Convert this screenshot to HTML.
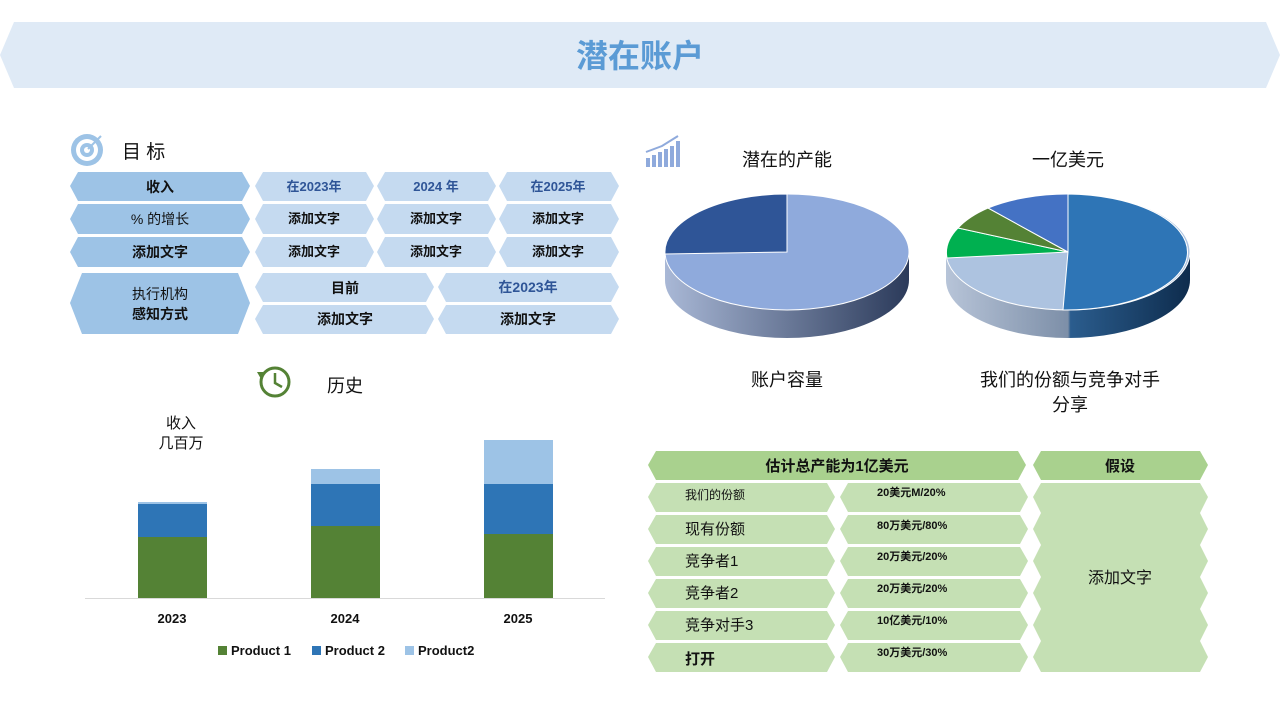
<!DOCTYPE html>
<html><head><meta charset="utf-8"><style>
html,body{margin:0;padding:0;background:#fff}
svg{display:block}
text{font-family:"Liberation Sans","Noto Sans CJK SC",sans-serif}
</style></head><body>
<svg width="1280" height="720" viewBox="0 0 1280 720" xmlns="http://www.w3.org/2000/svg">
<defs>
<linearGradient id="sideL" x1="0" x2="1"><stop offset="0" stop-color="#a9b8d6"/><stop offset="1" stop-color="#2b3a5a"/></linearGradient>
<linearGradient id="sideR" x1="0" x2="1"><stop offset="0" stop-color="#b7c4d8"/><stop offset="0.5" stop-color="#7d8fa8"/><stop offset="0.51" stop-color="#2b5d8e"/><stop offset="1" stop-color="#0e2c4d"/></linearGradient>
</defs>
<!-- banner -->
<polygon points="0,55 14,22 1266,22 1280,55 1266,88 14,88" fill="#dfeaf6"/>
<text x="640" y="67" text-anchor="middle" font-size="32" font-weight="bold" fill="#5b9bd5">潜在账户</text>

<!-- target icon -->
<circle cx="87" cy="150" r="16" fill="#9dc3e6"/><circle cx="87" cy="150" r="11" fill="#fff"/><circle cx="87" cy="150" r="7" fill="#9dc3e6"/><circle cx="87" cy="150" r="3" fill="#fff"/>
<line x1="88" y1="149" x2="101" y2="136" stroke="#9dc3e6" stroke-width="2"/>
<text x="122" y="158" font-size="19" fill="#111">目 标</text>

<g font-size="14" font-weight="bold" text-anchor="middle">
<!-- rows -->
<g fill="#9dc3e6">
<polygon points="70,186 78,172 242,172 250,186 242,201 78,201"/>
<polygon points="70,219 78,204 242,204 250,219 242,234 78,234"/>
<polygon points="70,252 78,237 242,237 250,252 242,267 78,267"/>
<polygon points="70,303 82,273 238,273 250,303 238,334 82,334"/>
</g>
<g fill="#c5daf0">
<polygon points="255,186 263,172 366,172 374,186 366,201 263,201"/>
<polygon points="377,186 385,172 488,172 496,186 488,201 385,201"/>
<polygon points="499,186 507,172 611,172 619,186 611,201 507,201"/>
<polygon points="255,219 263,204 366,204 374,219 366,234 263,234"/>
<polygon points="377,219 385,204 488,204 496,219 488,234 385,234"/>
<polygon points="499,219 507,204 611,204 619,219 611,234 507,234"/>
<polygon points="255,252 263,237 366,237 374,252 366,267 263,267"/>
<polygon points="377,252 385,237 488,237 496,252 488,267 385,267"/>
<polygon points="499,252 507,237 611,237 619,252 611,267 507,267"/>
<polygon points="255,287 263,273 426,273 434,287 426,302 263,302"/>
<polygon points="438,287 446,273 611,273 619,287 611,302 446,302"/>
<polygon points="255,319 263,305 426,305 434,319 426,334 263,334"/>
<polygon points="438,319 446,305 611,305 619,319 611,334 446,334"/>
</g>
<text x="160" y="192" fill="#111">收入</text>
<text x="160" y="224" fill="#111" font-weight="normal">% 的增长</text>
<text x="160" y="257" fill="#111">添加文字</text>
<text x="160" y="299" fill="#111" font-weight="normal">执行机构</text>
<text x="160" y="319" fill="#111">感知方式</text>
<g font-size="13" fill="#2f5597"><text x="314" y="191">在2023年</text><text x="436" y="191">2024 年</text><text x="558" y="191">在2025年</text></g>
<g font-size="13" fill="#111">
<text x="314" y="223">添加文字</text><text x="436" y="223">添加文字</text><text x="558" y="223">添加文字</text>
<text x="314" y="256">添加文字</text><text x="436" y="256">添加文字</text><text x="558" y="256">添加文字</text>
<text x="345" y="324" font-size="14">添加文字</text><text x="528" y="324" font-size="14">添加文字</text>
</g>
<text x="345" y="293" fill="#111">目前</text>
<text x="528" y="292" fill="#2f5597">在2023年</text>
</g>

<!-- bar icon -->
<g fill="#8faadc"><rect x="646" y="158" width="4" height="9"/><rect x="652" y="155" width="4" height="12"/><rect x="658" y="152" width="4" height="15"/><rect x="664" y="149" width="4" height="18"/><rect x="670" y="146" width="4" height="21"/><rect x="676" y="141" width="4" height="26"/></g>
<polyline points="646,152 662,146 678,136" stroke="#8faadc" stroke-width="2" fill="none"/>
<text x="787" y="166" font-size="18" text-anchor="middle" fill="#111">潜在的产能</text>
<text x="1068" y="166" font-size="18" text-anchor="middle" fill="#111">一亿美元</text>

<!-- left pie -->
<path d="M665,252 L665,280 A122,58 0 0 0 909,280 L909,252 Z" fill="url(#sideL)"/>
<ellipse cx="787" cy="252" rx="122" ry="58" fill="#8faadc" stroke="#fff" stroke-width="1"/>
<path d="M787,252 L787,194 A122,58 0 0 0 665,254 Z" fill="#2f5597" stroke="#fff" stroke-width="1"/>
<!-- right pie -->
<path d="M946,252 L946,280 A122,58 0 0 0 1190,280 L1190,252 Z" fill="url(#sideR)"/>
<ellipse cx="1068" cy="252" rx="122" ry="58" fill="#adc3e0" stroke="#fff"/>
<path d="M1068,252 L1068,194 A122,58 0 0 1 1063,310 Z" fill="#2e75b6" stroke="#fff"/>
<path d="M1068,252 L947,258 A122,58 0 0 1 958,228 Z" fill="#00b050" stroke="#fff"/>
<path d="M1068,252 L958,228 A122,58 0 0 1 988,208 Z" fill="#548235" stroke="#fff"/>
<path d="M1068,252 L988,208 A122,58 0 0 1 1068,194 Z" fill="#4472c4" stroke="#fff"/>
<text x="787" y="386" font-size="18" text-anchor="middle" fill="#111">账户容量</text>
<text x="1070" y="386" font-size="18" text-anchor="middle" fill="#111">我们的份额与竞争对手</text>
<text x="1070" y="411" font-size="18" text-anchor="middle" fill="#111">分享</text>

<!-- history -->
<circle cx="275" cy="382" r="14" fill="none" stroke="#548235" stroke-width="3"/>
<polyline points="275,373 275,383 282,387" stroke="#548235" stroke-width="2.5" fill="none"/>
<polygon points="257,372 265,372 261,379" fill="#548235"/>
<text x="327" y="392" font-size="18" fill="#111">历史</text>
<text x="181" y="428" font-size="15" text-anchor="middle" fill="#111">收入</text>
<text x="181" y="448" font-size="15" text-anchor="middle" fill="#111">几百万</text>
<line x1="85" y1="598.5" x2="605" y2="598.5" stroke="#d9d9d9"/>
<rect x="138" y="537" width="69" height="61" fill="#548235"/><rect x="138" y="504" width="69" height="33" fill="#2e75b6"/><rect x="138" y="502" width="69" height="2" fill="#9dc3e6"/>
<rect x="311" y="526" width="69" height="72" fill="#548235"/><rect x="311" y="484" width="69" height="42" fill="#2e75b6"/><rect x="311" y="469" width="69" height="15" fill="#9dc3e6"/>
<rect x="484" y="534" width="69" height="64" fill="#548235"/><rect x="484" y="484" width="69" height="50" fill="#2e75b6"/><rect x="484" y="440" width="69" height="44" fill="#9dc3e6"/>
<g font-size="13" font-weight="bold" fill="#111" text-anchor="middle"><text x="172" y="623">2023</text><text x="345" y="623">2024</text><text x="518" y="623">2025</text></g>
<g font-size="13" font-weight="bold" fill="#111">
<rect x="218" y="646" width="9" height="9" fill="#548235"/><text x="231" y="655">Product 1</text>
<rect x="312" y="646" width="9" height="9" fill="#2e75b6"/><text x="325" y="655">Product 2</text>
<rect x="405" y="646" width="9" height="9" fill="#9dc3e6"/><text x="418" y="655">Product2</text>
</g>

<!-- green table -->
<g fill="#a9d18e">
<polygon points="648,465 656,451 1018,451 1026,465 1018,480 656,480"/>
<polygon points="1033,465 1041,451 1200,451 1208,465 1200,480 1041,480"/>
</g>
<g fill="#c5e0b4">
<polygon points="648,497 656,483 827,483 835,497 827,512 656,512"/>
<polygon points="648,529 656,515 827,515 835,529 827,544 656,544"/>
<polygon points="648,561 656,547 827,547 835,561 827,576 656,576"/>
<polygon points="648,593 656,579 827,579 835,593 827,608 656,608"/>
<polygon points="648,625 656,611 827,611 835,625 827,640 656,640"/>
<polygon points="648,657 656,643 827,643 835,657 827,672 656,672"/>
<polygon points="840,497 848,483 1020,483 1028,497 1020,512 848,512"/>
<polygon points="840,529 848,515 1020,515 1028,529 1020,544 848,544"/>
<polygon points="840,561 848,547 1020,547 1028,561 1020,576 848,576"/>
<polygon points="840,593 848,579 1020,579 1028,593 1020,608 848,608"/>
<polygon points="840,625 848,611 1020,611 1028,625 1020,640 848,640"/>
<polygon points="840,657 848,643 1020,643 1028,657 1020,672 848,672"/>
<polygon points="1041,483 1200,483 1208,497 1200,513 1208,529 1200,545 1208,561 1200,577 1208,593 1200,609 1208,625 1200,641 1208,657 1200,672 1041,672 1033,657 1041,641 1033,625 1041,609 1033,593 1041,577 1033,561 1041,545 1033,529 1041,513 1033,497"/>
</g>
<text x="837" y="471" font-size="15" font-weight="bold" text-anchor="middle" fill="#111">估计总产能为1亿美元</text>
<text x="1120" y="471" font-size="15" font-weight="bold" text-anchor="middle" fill="#111">假设</text>
<g fill="#111" font-size="15">
<text x="685" y="499" font-size="12">我们的份额</text>
<text x="685" y="534">现有份额</text>
<text x="685" y="566">竞争者1</text>
<text x="685" y="598">竞争者2</text>
<text x="685" y="630">竞争对手3</text>
<text x="685" y="664" font-weight="bold">打开</text>
</g>
<g fill="#111" font-size="11" font-weight="bold">
<text x="877" y="496">20美元M/20%</text>
<text x="877" y="529">80万美元/80%</text>
<text x="877" y="560">20万美元/20%</text>
<text x="877" y="592">20万美元/20%</text>
<text x="877" y="624">10亿美元/10%</text>
<text x="877" y="656">30万美元/30%</text>
</g>
<text x="1120" y="583" font-size="16" text-anchor="middle" fill="#111">添加文字</text>
</svg>
</body></html>
